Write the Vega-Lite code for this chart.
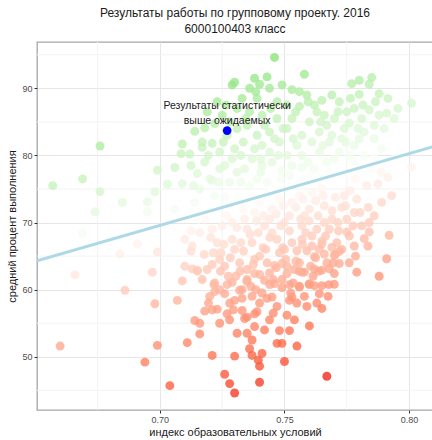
{
  "$schema": "https://vega.github.io/schema/vega-lite/v6.json",
  "width": 396,
  "height": 368,
  "autosize": "none",
  "padding": {"left": 37, "top": 42, "right": 0, "bottom": 30},
  "background": "white",
  "config": {
    "font": "Liberation Sans",
    "view": {"stroke": "#a6a6a6", "strokeWidth": 1.3},
    "axis": {
      "domain": false,
      "labelFont": "Liberation Sans",
      "titleFont": "Liberation Sans",
      "labelColor": "#4d4d4d",
      "labelFontSize": 9,
      "titleFontSize": 11,
      "titleFontWeight": "normal",
      "titleColor": "#1a1a1a",
      "tickSize": 3,
      "tickColor": "#333333",
      "gridColor": "#e6e6e6",
      "gridWidth": 1,
      "labelOverlap": false
    }
  },
  "title": {
    "text": ["Результаты работы по групповому проекту. 2016", "6000100403 класс"],
    "font": "Liberation Sans",
    "fontSize": 12,
    "fontWeight": "normal",
    "color": "#1a1a1a",
    "lineHeight": 16,
    "anchor": "middle",
    "offset": 6
  },
  "datasets": {
    "minorx": [{"v":0.675},{"v":0.725},{"v":0.775}],
    "minory": [{"v":45},{"v":55},{"v":65},{"v":75},{"v":85},{"v":95}],
    "pts": [
      {"x":0.676,"y":81.4,"resid":14.4},{"x":0.669,"y":76.5,"resid":10.2},{"x":0.657,"y":75.5,"resid":10.5},{"x":0.676,"y":74.6,"resid":7.6},
      {"x":0.685,"y":73.0,"resid":5.0},{"x":0.674,"y":71.6,"resid":4.8},{"x":0.695,"y":73.1,"resid":4.1},{"x":0.699,"y":77.8,"resid":8.3},
      {"x":0.703,"y":75.7,"resid":5.8},{"x":0.706,"y":78.2,"resid":8.0},{"x":0.709,"y":81.7,"resid":11.2},{"x":0.712,"y":80.2,"resid":9.3},
      {"x":0.717,"y":81.2,"resid":9.8},{"x":0.714,"y":83.6,"resid":12.5},{"x":0.718,"y":84.1,"resid":12.6},{"x":0.729,"y":90.5,"resid":17.8},
      {"x":0.715,"y":77.3,"resid":6.1},{"x":0.721,"y":76.3,"resid":4.5},{"x":0.709,"y":75.8,"resid":5.3},{"x":0.698,"y":74.6,"resid":5.2},
      {"x":0.695,"y":71.6,"resid":2.6},{"x":0.669,"y":68.4,"resid":2.1},{"x":0.726,"y":73.8,"resid":1.4},
      {"x":0.666,"y":62.2,"resid":-3.7},{"x":0.684,"y":65.3,"resid":-2.6},{"x":0.691,"y":66.8,"resid":-1.8},{"x":0.699,"y":65.6,"resid":-3.9},
      {"x":0.697,"y":62.6,"resid":-6.7},{"x":0.686,"y":59.9,"resid":-8.2},{"x":0.698,"y":57.9,"resid":-11.5},{"x":0.707,"y":58.4,"resid":-11.9},
      {"x":0.709,"y":61.3,"resid":-9.2},{"x":0.710,"y":63.5,"resid":-7.2},{"x":0.713,"y":63.1,"resid":-7.9},{"x":0.715,"y":62.9,"resid":-8.3},
      {"x":0.719,"y":63.0,"resid":-8.6},{"x":0.718,"y":56.8,"resid":-14.7},{"x":0.721,"y":57.0,"resid":-14.8},{"x":0.723,"y":57.1,"resid":-14.9},
      {"x":0.722,"y":59.7,"resid":-12.2},{"x":0.726,"y":59.4,"resid":-13.0},{"x":0.722,"y":61.0,"resid":-10.9},{"x":0.714,"y":55.4,"resid":-15.7},
      {"x":0.716,"y":55.0,"resid":-16.3},{"x":0.716,"y":53.4,"resid":-17.9},{"x":0.724,"y":55.0,"resid":-17.1},{"x":0.728,"y":55.5,"resid":-17.1},
      {"x":0.711,"y":52.1,"resid":-18.7},{"x":0.699,"y":51.7,"resid":-17.8},{"x":0.660,"y":51.6,"resid":-13.7},{"x":0.694,"y":49.2,"resid":-19.7},
      {"x":0.721,"y":50.2,"resid":-21.6},{"x":0.704,"y":45.7,"resid":-24.3},{"x":0.726,"y":47.4,"resid":-25.0},{"x":0.728,"y":46.0,"resid":-26.6},
      {"x":0.792,"y":68.1,"resid":-11.3},{"x":0.791,"y":64.6,"resid":-14.7},{"x":0.779,"y":62.6,"resid":-15.4},{"x":0.788,"y":62.0,"resid":-17.0},
      {"x":0.782,"y":67.6,"resid":-10.8},{"x":0.784,"y":68.6,"resid":-10.0},{"x":0.775,"y":68.6,"resid":-9.0},{"x":0.770,"y":60.8,"resid":-16.3},
      {"x":0.765,"y":57.2,"resid":-19.3},{"x":0.760,"y":54.6,"resid":-21.4},{"x":0.764,"y":59.4,"resid":-17.0},{"x":0.762,"y":60.6,"resid":-15.6},
      {"x":0.772,"y":63.9,"resid":-13.4},{"x":0.770,"y":65.1,"resid":-12.0},{"x":0.772,"y":65.7,"resid":-11.6},{"x":0.768,"y":63.1,"resid":-13.8},
      {"x":0.765,"y":62.9,"resid":-13.6},{"x":0.762,"y":63.1,"resid":-13.1},{"x":0.758,"y":62.6,"resid":-13.2},{"x":0.756,"y":60.5,"resid":-15.1},
      {"x":0.753,"y":58.9,"resid":-16.3},{"x":0.752,"y":58.4,"resid":-16.7},{"x":0.751,"y":56.2,"resid":-18.8},{"x":0.752,"y":53.9,"resid":-21.2},
      {"x":0.748,"y":53.9,"resid":-20.8},{"x":0.747,"y":52.0,"resid":-22.6},{"x":0.755,"y":51.6,"resid":-23.9},{"x":0.750,"y":49.3,"resid":-25.6},
      {"x":0.767,"y":47.1,"resid":-29.6},{"x":0.740,"y":46.2,"resid":-27.7},{"x":0.730,"y":44.6,"resid":-28.2},{"x":0.730,"y":50.1,"resid":-22.7},
      {"x":0.737,"y":52.5,"resid":-21.0},{"x":0.736,"y":51.2,"resid":-22.2},{"x":0.737,"y":50.2,"resid":-23.3},{"x":0.741,"y":50.5,"resid":-23.5},
      {"x":0.740,"y":48.6,"resid":-25.3},{"x":0.7395,"y":49.5,"resid":-24.4},{"x":0.749,"y":52.0,"resid":-22.8},{"x":0.738,"y":54.5,"resid":-19.1},
      {"x":0.738,"y":56.4,"resid":-17.2},{"x":0.739,"y":56.7,"resid":-17.0},{"x":0.734,"y":55.7,"resid":-17.5},{"x":0.735,"y":55.9,"resid":-17.4},
      {"x":0.727,"y":56.4,"resid":-16.1},{"x":0.733,"y":56.9,"resid":-16.2},{"x":0.730,"y":58.4,"resid":-14.4},{"x":0.733,"y":58.7,"resid":-14.4},
      {"x":0.741,"y":59.5,"resid":-14.5},{"x":0.743,"y":58.7,"resid":-15.5},{"x":0.745,"y":58.9,"resid":-15.5},{"x":0.732,"y":59.9,"resid":-13.1},
      {"x":0.749,"y":60.3,"resid":-14.5},{"x":0.756,"y":60.4,"resid":-15.2},{"x":0.760,"y":60.9,"resid":-15.1},{"x":0.765,"y":60.6,"resid":-15.9},
      {"x":0.770,"y":62.4,"resid":-14.7},{"x":0.742,"y":61.4,"resid":-12.7},{"x":0.746,"y":60.9,"resid":-13.6},{"x":0.735,"y":61.5,"resid":-11.8},
      {"x":0.729,"y":61.1,"resid":-11.6},{"x":0.738,"y":62.4,"resid":-11.2},{"x":0.751,"y":62.4,"resid":-12.6},{"x":0.757,"y":62.6,"resid":-13.1},
      {"x":0.751,"y":63.5,"resid":-11.5},{"x":0.749,"y":63.9,"resid":-10.9},{"x":0.746,"y":63.6,"resid":-10.9},{"x":0.762,"y":64.9,"resid":-11.3},
      {"x":0.766,"y":65.3,"resid":-11.3},{"x":0.769,"y":66.3,"resid":-10.7},{"x":0.765,"y":66.8,"resid":-9.7},{"x":0.759,"y":65.8,"resid":-10.1},
      {"x":0.755,"y":65.8,"resid":-9.7},
      {"x":0.7836,"y":72.25,"resid":-6.3},{"x":0.7803,"y":71.5,"resid":-6.7},{"x":0.7875,"y":75.75,"resid":-3.2},{"x":0.7915,"y":76.75,"resid":-2.6},
      {"x":0.7888,"y":77.5,"resid":-1.6},{"x":0.783,"y":75.5,"resid":-3.0},{"x":0.710,"y":67.5,"resid":-3.2},
      {"x":0.7217,"y":60.75,"resid":-11.2},{"x":0.727,"y":60.75,"resid":-11.7},{"x":0.7349,"y":61.25,"resid":-12.1},{"x":0.7441,"y":60.75,"resid":-13.6},
      {"x":0.752,"y":60.75,"resid":-14.4},{"x":0.7599,"y":60.75,"resid":-15.2},{"x":0.7678,"y":60.75,"resid":-16.1},{"x":0.7178,"y":65.25,"resid":-6.2},
      {"x":0.7257,"y":66.75,"resid":-5.6},{"x":0.7336,"y":65.75,"resid":-7.4},{"x":0.7414,"y":66.25,"resid":-7.8},{"x":0.7493,"y":66.25,"resid":-8.6},
      {"x":0.7572,"y":66.75,"resid":-8.9},{"x":0.7651,"y":67.25,"resid":-9.3},{"x":0.7717,"y":68.75,"resid":-8.5},{"x":0.7204,"y":67.75,"resid":-4.0},
      {"x":0.7125,"y":68.75,"resid":-2.2},{"x":0.7309,"y":69.25,"resid":-3.6},{"x":0.7388,"y":70.25,"resid":-3.5},{"x":0.7467,"y":71.25,"resid":-3.3},
      {"x":0.7546,"y":72.25,"resid":-3.2},{"x":0.7625,"y":73.25,"resid":-3.0},{"x":0.7704,"y":73.75,"resid":-3.4},{"x":0.773,"y":72.25,"resid":-5.1},
      {"x":0.7763,"y":74.75,"resid":-3.0},{"x":0.7691,"y":71.75,"resid":-5.2},{"x":0.7599,"y":70.25,"resid":-5.7},{"x":0.752,"y":68.75,"resid":-6.4},
      {"x":0.7441,"y":67.75,"resid":-6.5},{"x":0.7362,"y":68.25,"resid":-5.2},{"x":0.7283,"y":64.75,"resid":-7.9},{"x":0.7375,"y":63.75,"resid":-9.8},
      {"x":0.7467,"y":63.25,"resid":-11.3},{"x":0.7546,"y":64.25,"resid":-11.2},{"x":0.7625,"y":64.75,"resid":-11.5},{"x":0.7704,"y":65.25,"resid":-11.9},
      {"x":0.7322,"y":62.75,"resid":-10.3},{"x":0.7401,"y":62.25,"resid":-11.6},{"x":0.7559,"y":62.75,"resid":-12.8},{"x":0.7638,"y":62.75,"resid":-13.7},
      {"x":0.7243,"y":62.75,"resid":-9.4},{"x":0.7151,"y":62.75,"resid":-8.4},{"x":0.7125,"y":65.75,"resid":-5.2},{"x":0.721,"y":63.75,"resid":-8.1},
      {"x":0.746,"y":94.6,"resid":20.1},{"x":0.758,"y":92.1,"resid":16.3},{"x":0.738,"y":91.5,"resid":17.9},{"x":0.743,"y":91.7,"resid":17.5},
      {"x":0.730,"y":90.9,"resid":18.1},{"x":0.749,"y":90.5,"resid":15.7},{"x":0.777,"y":90.7,"resid":12.9},{"x":0.780,"y":91.2,"resid":13.1},
      {"x":0.785,"y":91.6,"resid":12.9},{"x":0.784,"y":90.6,"resid":12.0},{"x":0.736,"y":90.0,"resid":16.6},{"x":0.740,"y":90.6,"resid":16.7},
      {"x":0.744,"y":90.0,"resid":15.7},{"x":0.753,"y":89.8,"resid":14.6},{"x":0.759,"y":89.0,"resid":13.1},{"x":0.769,"y":89.0,"resid":12.0},
      {"x":0.780,"y":89.1,"resid":11.0},{"x":0.788,"y":89.2,"resid":10.2},{"x":0.801,"y":87.8,"resid":7.4},{"x":0.765,"y":88.2,"resid":11.7},
      {"x":0.772,"y":88.0,"resid":10.7},{"x":0.784,"y":86.8,"resid":8.2},{"x":0.791,"y":86.3,"resid":7.0},{"x":0.788,"y":86.0,"resid":7.0},
      {"x":0.781,"y":85.5,"resid":7.3},{"x":0.751,"y":87.5,"resid":12.5},{"x":0.756,"y":87.3,"resid":11.7},{"x":0.763,"y":86.5,"resid":10.2},
      {"x":0.770,"y":85.5,"resid":8.4},{"x":0.776,"y":84.8,"resid":7.1},{"x":0.731,"y":87.0,"resid":14.1},{"x":0.736,"y":86.5,"resid":13.1},
      {"x":0.741,"y":86.0,"resid":12.0},{"x":0.747,"y":85.5,"resid":10.9},{"x":0.722,"y":84.75,"resid":12.8},{"x":0.717,"y":82.0,"resid":10.6},
      {"x":0.721,"y":81.8,"resid":10.0},{"x":0.7085,"y":80.25,"resid":9.8},{"x":0.731,"y":84.0,"resid":11.1},{"x":0.735,"y":84.5,"resid":11.2},
      {"x":0.739,"y":83.0,"resid":9.3},{"x":0.744,"y":83.5,"resid":9.2},{"x":0.751,"y":84.0,"resid":9.0},{"x":0.757,"y":83.0,"resid":7.3},
      {"x":0.764,"y":83.5,"resid":7.1},{"x":0.768,"y":82.0,"resid":5.2},{"x":0.773,"y":82.5,"resid":5.1},{"x":0.778,"y":81.5,"resid":3.6},
      {"x":0.786,"y":82.5,"resid":3.7},{"x":0.724,"y":80.5,"resid":8.4},{"x":0.730,"y":81.0,"resid":8.2},{"x":0.738,"y":81.0,"resid":7.4},
      {"x":0.744,"y":80.5,"resid":6.2},{"x":0.751,"y":80.0,"resid":5.0},{"x":0.757,"y":80.0,"resid":4.3},{"x":0.764,"y":80.5,"resid":4.1},
      {"x":0.770,"y":79.5,"resid":2.4},{"x":0.778,"y":79.0,"resid":1.1},{"x":0.786,"y":79.75,"resid":1.0},{"x":0.718,"y":79.0,"resid":7.5},
      {"x":0.7125,"y":78.5,"resid":7.6},{"x":0.726,"y":78.5,"resid":6.1},{"x":0.734,"y":78.0,"resid":4.8},{"x":0.741,"y":78.5,"resid":4.5},
      {"x":0.749,"y":77.75,"resid":2.9},{"x":0.757,"y":78.25,"resid":2.6},{"x":0.801,"y":78.25,"resid":-2.1},
      {"x":0.725,"y":86.0,"resid":13.8},{"x":0.733,"y":88.5,"resid":15.4},{"x":0.747,"y":88.0,"resid":13.4},{"x":0.760,"y":85.0,"resid":8.9},
      {"x":0.767,"y":84.5,"resid":7.8},{"x":0.775,"y":86.5,"resid":8.9},{"x":0.782,"y":83.5,"resid":5.2},{"x":0.790,"y":84.0,"resid":4.8},
      {"x":0.794,"y":85.5,"resid":5.9},{"x":0.727,"y":83.0,"resid":10.5},{"x":0.7335,"y":82.0,"resid":8.9},{"x":0.748,"y":82.0,"resid":7.3},
      {"x":0.755,"y":81.5,"resid":6.0},{"x":0.761,"y":82.0,"resid":5.9},{"x":0.772,"y":80.5,"resid":3.2},{"x":0.782,"y":80.0,"resid":1.7},
      {"x":0.745,"y":79.0,"resid":4.6},{"x":0.753,"y":78.5,"resid":3.2},{"x":0.762,"y":78.0,"resid":1.8},{"x":0.768,"y":77.5,"resid":0.6},
      {"x":0.774,"y":77.0,"resid":-0.5},{"x":0.720,"y":76.5,"resid":4.8},{"x":0.728,"y":76.0,"resid":3.4},{"x":0.736,"y":75.5,"resid":2.1},
      {"x":0.743,"y":76.0,"resid":1.8},{"x":0.751,"y":75.5,"resid":0.5},{"x":0.758,"y":76.5,"resid":0.7},{"x":0.765,"y":75.0,"resid":-1.5},
      {"x":0.722,"y":74.0,"resid":2.1},{"x":0.731,"y":73.5,"resid":0.6},{"x":0.740,"y":73.0,"resid":-0.9},{"x":0.748,"y":73.5,"resid":-1.2},
      {"x":0.756,"y":74.0,"resid":-1.6},{"x":0.714,"y":73.0,"resid":1.9},{"x":0.706,"y":72.0,"resid":1.8},{"x":0.718,"y":70.5,"resid":-1.0},
      {"x":0.727,"y":71.0,"resid":-1.5},{"x":0.734,"y":70.5,"resid":-2.7},{"x":0.742,"y":69.5,"resid":-4.6},{"x":0.750,"y":70.0,"resid":-4.9},
      {"x":0.758,"y":71.0,"resid":-4.8},{"x":0.766,"y":70.0,"resid":-6.6},{"x":0.775,"y":70.5,"resid":-7.1},{"x":0.779,"y":73.5,"resid":-4.5},
      {"x":0.713,"y":66.5,"resid":-4.5},{"x":0.721,"y":69.0,"resid":-2.8},{"x":0.729,"y":67.5,"resid":-5.2},{"x":0.737,"y":67.0,"resid":-6.5},
      {"x":0.745,"y":68.5,"resid":-5.9},{"x":0.753,"y":67.0,"resid":-8.3},{"x":0.761,"y":68.0,"resid":-8.1},{"x":0.768,"y":69.0,"resid":-7.9},
      {"x":0.778,"y":66.5,"resid":-11.4},{"x":0.724,"y":64.5,"resid":-7.6},{"x":0.732,"y":64.0,"resid":-9.0},{"x":0.740,"y":65.0,"resid":-8.9},
      {"x":0.748,"y":65.5,"resid":-9.2},{"x":0.756,"y":64.0,"resid":-11.6},{"x":0.764,"y":66.0,"resid":-10.4},{"x":0.717,"y":61.5,"resid":-9.9},
      {"x":0.733,"y":60.0,"resid":-13.1},{"x":0.740,"y":58.0,"resid":-15.9},{"x":0.747,"y":57.5,"resid":-17.1},{"x":0.755,"y":58.0,"resid":-17.5},
      {"x":0.759,"y":57.5,"resid":-18.4},{"x":0.744,"y":55.5,"resid":-18.8},{"x":0.731,"y":53.5,"resid":-19.4},{"x":0.720,"y":59.0,"resid":-12.7},
      {"x":0.757,"y":69.5,"resid":-6.2},{"x":0.771,"y":67.0,"resid":-10.2},{"x":0.776,"y":64.0,"resid":-13.7},{"x":0.784,"y":70.0,"resid":-8.6},
      {"x":0.793,"y":74.0,"resid":-5.5},
      {"x":0.725,"y":69.5,"resid":-2.8},{"x":0.730,"y":66.0,"resid":-6.8},{"x":0.735,"y":69.0,"resid":-4.3},{"x":0.738,"y":64.5,"resid":-9.1},
      {"x":0.743,"y":64.0,"resid":-10.2},{"x":0.744,"y":70.5,"resid":-3.8},{"x":0.747,"y":67.5,"resid":-7.1},{"x":0.750,"y":66.0,"resid":-8.9},
      {"x":0.752,"y":71.0,"resid":-4.1},{"x":0.754,"y":63.0,"resid":-12.4},{"x":0.757,"y":67.5,"resid":-8.2},{"x":0.760,"y":72.0,"resid":-4.0},
      {"x":0.761,"y":66.5,"resid":-9.6},{"x":0.763,"y":69.0,"resid":-7.3},{"x":0.767,"y":64.0,"resid":-12.7},{"x":0.769,"y":70.5,"resid":-6.5},
      {"x":0.773,"y":66.0,"resid":-11.4},{"x":0.776,"y":68.0,"resid":-9.7},{"x":0.778,"y":71.5,"resid":-6.4},{"x":0.781,"y":69.5,"resid":-8.7},
      {"x":0.786,"y":71.0,"resid":-7.8},{"x":0.789,"y":73.0,"resid":-6.1},{"x":0.774,"y":74.0,"resid":-3.5},{"x":0.766,"y":72.5,"resid":-4.1},
      {"x":0.761,"y":74.5,"resid":-1.6},{"x":0.753,"y":73.0,"resid":-2.3},{"x":0.745,"y":72.0,"resid":-2.4},{"x":0.738,"y":71.5,"resid":-2.1},
      {"x":0.729,"y":70.0,"resid":-2.7},{"x":0.723,"y":67.0,"resid":-5.0},{"x":0.716,"y":68.5,"resid":-2.8},{"x":0.726,"y":63.5,"resid":-8.9},
      {"x":0.735,"y":63.0,"resid":-10.3},{"x":0.744,"y":62.5,"resid":-11.8},{"x":0.749,"y":61.5,"resid":-13.3},{"x":0.758,"y":59.0,"resid":-16.8},
      {"x":0.763,"y":58.0,"resid":-18.3},{"x":0.737,"y":59.0,"resid":-14.5},{"x":0.728,"y":58.0,"resid":-14.6},{"x":0.724,"y":60.0,"resid":-12.1},
      {"x":0.742,"y":54.0,"resid":-20.1},{"x":0.735,"y":53.5,"resid":-19.8},{"x":0.754,"y":55.5,"resid":-19.9},
      {"x":0.723,"y":88.0,"resid":16.0},{"x":0.728,"y":85.0,"resid":12.4},{"x":0.739,"y":88.5,"resid":14.8},{"x":0.742,"y":84.5,"resid":10.4},
      {"x":0.746,"y":82.5,"resid":8.0},{"x":0.753,"y":85.5,"resid":10.3},{"x":0.756,"y":89.5,"resid":13.9},{"x":0.762,"y":87.5,"resid":11.3},
      {"x":0.766,"y":86.0,"resid":9.4},{"x":0.769,"y":83.0,"resid":6.0},{"x":0.774,"y":84.0,"resid":6.5},{"x":0.778,"y":87.0,"resid":9.1},
      {"x":0.780,"y":82.5,"resid":4.4},{"x":0.786,"y":84.5,"resid":5.7},{"x":0.789,"y":81.0,"resid":1.9},{"x":0.776,"y":80.0,"resid":2.3},
      {"x":0.767,"y":79.0,"resid":2.3},{"x":0.760,"y":77.0,"resid":1.0},{"x":0.752,"y":77.0,"resid":1.9},{"x":0.747,"y":75.0,"resid":0.4},
      {"x":0.739,"y":76.5,"resid":2.8},{"x":0.731,"y":77.5,"resid":4.6},{"x":0.724,"y":78.0,"resid":5.9},{"x":0.716,"y":75.0,"resid":3.7},
      {"x":0.729,"y":79.5,"resid":6.8},{"x":0.737,"y":79.5,"resid":6.0},{"x":0.741,"y":81.5,"resid":7.5},{"x":0.771,"y":77.5,"resid":0.3},
      {"x":0.719,"y":86.5,"resid":14.9},
      {"x":0.7215,"y":65.5,"resid":-6.4},{"x":0.7275,"y":62.0,"resid":-10.5},{"x":0.7325,"y":67.0,"resid":-6.1},{"x":0.7365,"y":60.5,"resid":-13.0},
      {"x":0.7395,"y":68.5,"resid":-5.3},{"x":0.7425,"y":66.0,"resid":-8.1},{"x":0.7455,"y":61.5,"resid":-12.9},{"x":0.7485,"y":69.5,"resid":-5.3},
      {"x":0.7505,"y":64.5,"resid":-10.5},{"x":0.7535,"y":61.0,"resid":-14.3},{"x":0.7565,"y":70.5,"resid":-5.1},{"x":0.7585,"y":68.5,"resid":-7.3},
      {"x":0.7605,"y":63.5,"resid":-12.6},{"x":0.7635,"y":71.0,"resid":-5.4},{"x":0.7665,"y":68.0,"resid":-8.7},{"x":0.7695,"y":64.0,"resid":-13.0},
      {"x":0.7715,"y":70.0,"resid":-7.2},{"x":0.7745,"y":72.5,"resid":-5.0},{"x":0.7775,"y":69.5,"resid":-8.4},{"x":0.7335,"y":72.0,"resid":-1.2},
      {"x":0.7415,"y":71.0,"resid":-3.0},{"x":0.7495,"y":72.5,"resid":-2.4},{"x":0.7575,"y":73.5,"resid":-2.2},{"x":0.7655,"y":74.0,"resid":-2.6},
      {"x":0.7195,"y":72.0,"resid":0.3},{"x":0.7285,"y":72.5,"resid":-0.1},{"x":0.7365,"y":74.0,"resid":0.5},{"x":0.7445,"y":74.5,"resid":0.2},
      {"x":0.7155,"y":70.5,"resid":-0.7},{"x":0.7245,"y":65.5,"resid":-6.7},{"x":0.7305,"y":62.0,"resid":-10.8},{"x":0.7385,"y":60.0,"resid":-13.7},
      {"x":0.7525,"y":59.5,"resid":-15.7},{"x":0.7615,"y":62.0,"resid":-14.2},{"x":0.7675,"y":59.0,"resid":-17.8},{"x":0.7455,"y":56.5,"resid":-17.9},
      {"x":0.7295,"y":57.0,"resid":-15.7},{"x":0.7195,"y":58.0,"resid":-13.7},{"x":0.7785,"y":65.0,"resid":-13.0},{"x":0.7835,"y":66.5,"resid":-12.0},
      {"x":0.7265,"y":87.5,"resid":15.1},{"x":0.7345,"y":85.5,"resid":12.2},{"x":0.7385,"y":89.5,"resid":15.8},{"x":0.7445,"y":87.0,"resid":12.7},
      {"x":0.7495,"y":84.0,"resid":9.1},{"x":0.7545,"y":86.5,"resid":11.1},{"x":0.7595,"y":88.0,"resid":12.1},{"x":0.7645,"y":85.0,"resid":8.5},
      {"x":0.7715,"y":86.5,"resid":9.3},{"x":0.7765,"y":88.5,"resid":10.7},{"x":0.7815,"y":87.5,"resid":9.2},{"x":0.7865,"y":88.0,"resid":9.2},
      {"x":0.7915,"y":88.5,"resid":9.1},{"x":0.7955,"y":87.0,"resid":7.2},{"x":0.7325,"y":80.0,"resid":7.0},{"x":0.7405,"y":79.5,"resid":5.6},
      {"x":0.7475,"y":80.0,"resid":5.3},{"x":0.7535,"y":82.5,"resid":7.2},{"x":0.7595,"y":79.0,"resid":3.1},{"x":0.7655,"y":81.5,"resid":4.9},
      {"x":0.7745,"y":82.0,"resid":4.5},{"x":0.7795,"y":84.0,"resid":5.9},{"x":0.7255,"y":82.0,"resid":9.7},{"x":0.7195,"y":80.0,"resid":8.3},
      {"x":0.7235,"y":76.0,"resid":3.9},{"x":0.7325,"y":76.0,"resid":3.0},{"x":0.7405,"y":77.5,"resid":3.6},{"x":0.7485,"y":76.5,"resid":1.7},
      {"x":0.7555,"y":76.0,"resid":0.5},{"x":0.7635,"y":77.0,"resid":0.6},{"x":0.7785,"y":76.5,"resid":-1.5},{"x":0.7845,"y":78.0,"resid":-0.6},
      {"x":0.7945,"y":79.5,"resid":-0.2},{"x":0.7135,"y":75.5,"resid":4.5}
    ],
    "fit": [{"x":0.6507,"y":64.3},{"x":0.8096,"y":81.3}],
    "hi": [{"x":0.727,"y":83.7,"label":"Результаты статистически\nвыше ожидаемых"}]
  },
  "layer": [
    {
      "data": {"name": "minorx"},
      "mark": {"type": "rule", "color": "#f3f3f3", "strokeWidth": 1},
      "encoding": {
        "x": {"field": "v", "type": "quantitative", "title": "индекс образовательных условий"}
      }
    },
    {
      "data": {"name": "minory"},
      "mark": {"type": "rule", "color": "#f3f3f3", "strokeWidth": 1},
      "encoding": {
        "y": {"field": "v", "type": "quantitative", "title": "средний процент выполнения"}
      }
    },
    {
      "data": {"name": "pts"},
      "mark": {"type": "circle", "size": 80, "opacity": 0.78},
      "encoding": {
        "x": {
          "field": "x", "type": "quantitative",
          "title": "индекс образовательных условий",
          "scale": {"domain": [0.6507, 0.8096], "nice": false, "zero": false},
          "axis": {
            "title": "индекс образовательных условий",
            "values": [0.7, 0.75, 0.8],
            "format": ".2f",
            "labelPadding": 2,
            "titlePadding": 2
          }
        },
        "y": {
          "field": "y", "type": "quantitative",
          "title": "средний процент выполнения",
          "scale": {"domain": [42.07, 96.9], "nice": false, "zero": false},
          "axis": {
            "title": "средний процент выполнения",
            "values": [50, 60, 70, 80, 90],
            "format": "d",
            "labelPadding": 2,
            "titlePadding": 4
          }
        },
        "color": {
          "field": "resid", "type": "quantitative", "legend": null,
          "scale": {"domain": [-30, 0, 30], "range": ["#f01e10", "#ffffff", "#2ad42a"], "interpolate": "lab"}
        }
      }
    },
    {
      "data": {"name": "fit"},
      "mark": {"type": "line", "color": "#add8e6", "strokeWidth": 3, "clip": true},
      "encoding": {
        "x": {"field": "x", "type": "quantitative"},
        "y": {"field": "y", "type": "quantitative"}
      }
    },
    {
      "data": {"name": "hi"},
      "mark": {"type": "circle", "size": 75, "opacity": 1, "color": "#0000ff"},
      "encoding": {
        "x": {"field": "x", "type": "quantitative"},
        "y": {"field": "y", "type": "quantitative"}
      }
    },
    {
      "data": {"name": "hi"},
      "mark": {"type": "text", "font": "Liberation Sans", "fontSize": 10.5, "color": "#1a1a1a", "baseline": "middle", "lineBreak": "\n", "lineHeight": 15, "dy": -25},
      "encoding": {
        "x": {"field": "x", "type": "quantitative"},
        "y": {"field": "y", "type": "quantitative"},
        "text": {"field": "label"}
      }
    }
  ]
}
